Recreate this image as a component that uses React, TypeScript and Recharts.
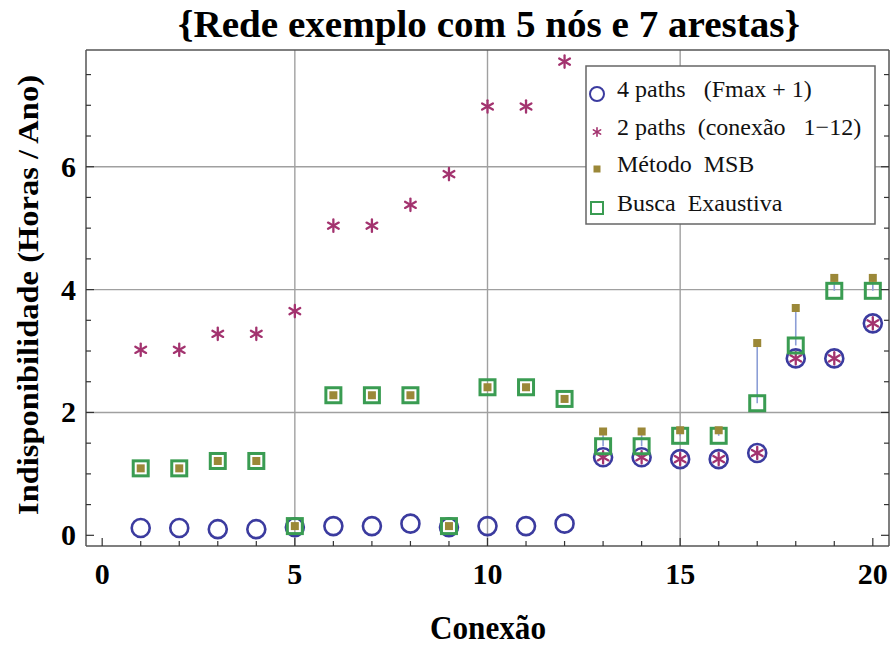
import React from 'react';
import { ScatterChart, Scatter, XAxis, YAxis, CartesianGrid, ReferenceLine } from 'recharts';

const conexoes = [1, 2, 3, 4, 5, 6, 7, 8, 9, 10, 11, 12, 13, 14, 15, 16, 17, 18, 19, 20];
const fourPaths = [0.12, 0.12, 0.10, 0.10, 0.13, 0.15, 0.15, 0.19, 0.13, 0.15, 0.15, 0.19, 1.27, 1.27, 1.24, 1.24, 1.34, 2.88, 2.88, 3.45];
const twoPaths = [3.02, 3.02, 3.28, 3.28, 3.65, 5.04, 5.04, 5.38, 5.88, 6.98, 6.98, 7.71, 1.27, 1.27, 1.24, 1.24, 1.34, 2.88, 2.88, 3.45];
const metodoMSB = [1.09, 1.09, 1.21, 1.21, 0.15, 2.28, 2.28, 2.28, 0.15, 2.41, 2.41, 2.22, 1.69, 1.69, 1.71, 1.71, 3.13, 3.70, 4.19, 4.19];
const buscaExaustiva = [1.09, 1.09, 1.21, 1.21, 0.15, 2.28, 2.28, 2.28, 0.15, 2.41, 2.41, 2.22, 1.45, 1.45, 1.62, 1.62, 2.15, 3.09, 3.98, 3.98];

const xTicks = [0, 1, 2, 3, 4, 5, 6, 7, 8, 9, 10, 11, 12, 13, 14, 15, 16, 17, 18, 19, 20];
const xLabeled = [0, 5, 10, 15, 20];
const yTicks = [0, 0.5, 1, 1.5, 2, 2.5, 3, 3.5, 4, 4.5, 5, 5.5, 6, 6.5, 7, 7.5];
const yLabeled = [0, 2, 4, 6];
const xGrid = [5, 10, 15];
const yGrid = [2, 4, 6];

const title = '{Rede exemplo com 5 nós e 7 arestas}';
const xTitle = 'Conexão';
const yTitle = 'Indisponibilidade (Horas / Ano)';
const legendLabels = ['4 paths   (Fmax + 1)', '2 paths  (conexão   1\u221212)', 'Método  MSB', 'Busca  Exaustiva'];

const BLUE = '#3b3b9f';
const MAGENTA = '#a3336f';
const OLIVE = '#9b8838';
const GREEN = '#3a9c52';
const LINK = '#8c9ed6';
const FRAME = '#555555';
const SERIF = '"Liberation Serif", "Times New Roman", Times, serif';

const toPts = (vals: number[]) => conexoes.map((x, i) => ({ x, y: vals[i] }));

const CircleShape = (p: any) => (
  <circle cx={p.cx} cy={p.cy} r={9} fill="none" stroke={BLUE} strokeWidth={2.6} />
);
const StarMark = ({ cx, cy, s, w }: { cx: number; cy: number; s: number; w: number }) => {
  const lines = [90, 30, -30].map((a) => {
    const r = (a * Math.PI) / 180;
    const dx = Math.cos(r) * s;
    const dy = Math.sin(r) * s;
    return <line key={a} x1={cx - dx} y1={cy - dy} x2={cx + dx} y2={cy + dy} stroke={MAGENTA} strokeWidth={w} strokeLinecap="round" />;
  });
  return <g>{lines}</g>;
};
const StarShape = (p: any) => <StarMark cx={p.cx} cy={p.cy} s={6.2} w={2.3} />;
const MsbShape = (p: any) => <rect x={p.cx - 4} y={p.cy - 4} width={8} height={8} fill={OLIVE} />;
const BuscaShape = (p: any) => (
  <rect x={p.cx - 7.5} y={p.cy - 7.5} width={15} height={15} fill="none" stroke={GREEN} strokeWidth={3} />
);

// plot box
const PL = 86;
const PT = 50;
const PB = 546;
const PR = 889;

const BottomTick = (p: any) => {
  const v = p.payload.value;
  const major = v % 5 === 0;
  return (
    <g>
      <line x1={p.x} x2={p.x} y1={PB} y2={PB - (major ? 8 : 5)} stroke="#333" strokeWidth={1.2} />
      {xLabeled.includes(v) && (
        <text x={p.x} y={PB + 38} textAnchor="middle" fontFamily={SERIF} fontWeight="bold" fontSize={30} fill="#000">
          {v}
        </text>
      )}
    </g>
  );
};
const TopTick = (p: any) => {
  const v = p.payload.value;
  const major = v % 5 === 0;
  return <line x1={p.x} x2={p.x} y1={PT} y2={PT + (major ? 8 : 5)} stroke="#333" strokeWidth={1.2} />;
};
const LeftTick = (p: any) => {
  const v = p.payload.value;
  const major = v % 2 === 0;
  return (
    <g>
      <line x1={PL} x2={PL + (major ? 8 : 5)} y1={p.y} y2={p.y} stroke="#333" strokeWidth={1.2} />
      {yLabeled.includes(v) && (
        <text x={PL - 10} y={p.y + 10} textAnchor="end" fontFamily={SERIF} fontWeight="bold" fontSize={30} fill="#000">
          {v}
        </text>
      )}
    </g>
  );
};
const RightTick = (p: any) => {
  const v = p.payload.value;
  const major = v % 2 === 0;
  return <line x1={PR} x2={PR - (major ? 8 : 5)} y1={p.y} y2={p.y} stroke="#333" strokeWidth={1.2} />;
};

const W = 891;
const H = 646;

export default function App() {
  const legendRows = [94, 132, 169, 208];
  return (
    <div style={{ position: 'absolute', left: 0, top: 0, width: W, height: H, background: '#fff' }}>
      <ScatterChart width={W} height={H} margin={{ top: 49, right: 1, bottom: 99, left: 85 }}>
        <CartesianGrid
          xAxisId="b"
          yAxisId="l"
          stroke="#a0a0a0"
          strokeWidth={1.4}
          verticalValues={xGrid}
          horizontalValues={yGrid}
        />
        <XAxis
          xAxisId="b"
          type="number"
          dataKey="x"
          domain={[-0.42, 20.42]}
          ticks={xTicks}
          interval={0}
          allowDataOverflow
          height={1}
          tickSize={0}
          tickMargin={0}
          tickLine={false}
          axisLine={{ stroke: FRAME, strokeWidth: 1.5 }}
          tick={<BottomTick />}
        />
        <XAxis
          xAxisId="t"
          orientation="top"
          type="number"
          domain={[-0.42, 20.42]}
          ticks={xTicks}
          interval={0}
          allowDataOverflow
          height={1}
          tickSize={0}
          tickMargin={0}
          tickLine={false}
          axisLine={{ stroke: FRAME, strokeWidth: 1.5 }}
          tick={<TopTick />}
        />
        <YAxis
          yAxisId="l"
          type="number"
          dataKey="y"
          domain={[-0.174, 7.9]}
          ticks={yTicks}
          interval={0}
          allowDataOverflow
          width={1}
          tickSize={0}
          tickMargin={0}
          tickLine={false}
          axisLine={{ stroke: FRAME, strokeWidth: 1.5 }}
          tick={<LeftTick />}
        />
        <YAxis
          yAxisId="r"
          orientation="right"
          type="number"
          domain={[-0.174, 7.9]}
          ticks={yTicks}
          interval={0}
          allowDataOverflow
          width={1}
          tickSize={0}
          tickMargin={0}
          tickLine={false}
          axisLine={{ stroke: FRAME, strokeWidth: 1.5 }}
          tick={<RightTick />}
        />
        {conexoes.map((x, i) =>
          metodoMSB[i] !== buscaExaustiva[i] ? (
            <ReferenceLine
              key={'l' + x}
              xAxisId="b"
              yAxisId="l"
              segment={[
                { x, y: metodoMSB[i] },
                { x, y: buscaExaustiva[i] },
              ]}
              stroke={LINK}
              strokeWidth={1.6}
            />
          ) : null
        )}
        <Scatter xAxisId="b" yAxisId="l" data={toPts(fourPaths)} shape={CircleShape} isAnimationActive={false} />
        <Scatter xAxisId="b" yAxisId="l" data={toPts(twoPaths)} shape={StarShape} isAnimationActive={false} />
        <Scatter xAxisId="b" yAxisId="l" data={toPts(buscaExaustiva)} shape={BuscaShape} isAnimationActive={false} />
        <Scatter xAxisId="b" yAxisId="l" data={toPts(metodoMSB)} shape={MsbShape} isAnimationActive={false} />
      </ScatterChart>
      <svg width={W} height={H} style={{ position: 'absolute', left: 0, top: 0, pointerEvents: 'none' }}>
        <text
          x={489}
          y={37}
          textAnchor="middle"
          fontFamily={SERIF}
          fontWeight="bold"
          fontSize={38}
          fill="#000"
          textLength={622}
          lengthAdjust="spacingAndGlyphs"
        >
          {title}
        </text>
        <text
          x={488}
          y={639}
          textAnchor="middle"
          fontFamily={SERIF}
          fontWeight="bold"
          fontSize={33}
          fill="#000"
          textLength={116}
          lengthAdjust="spacingAndGlyphs"
        >
          {xTitle}
        </text>
        <text
          x={0}
          y={0}
          transform="translate(38,295) rotate(-90)"
          textAnchor="middle"
          fontFamily={SERIF}
          fontWeight="bold"
          fontSize={30}
          fill="#000"
          textLength={440}
          lengthAdjust="spacingAndGlyphs"
        >
          {yTitle}
        </text>
        <rect x={586} y={66} width={289} height={158} fill="#fff" stroke="#666" strokeWidth={1.5} />
        <circle cx={597} cy={legendRows[0]} r={7} fill="none" stroke={BLUE} strokeWidth={2} />
        <StarMark cx={597} cy={legendRows[1]} s={4.2} w={1.6} />
        <rect x={593.5} y={legendRows[2] - 3.5} width={7} height={7} fill={OLIVE} />
        <rect x={591} y={legendRows[3] - 6} width={12} height={12} fill="none" stroke={GREEN} strokeWidth={2} />
        {legendLabels.map((t, i) => (
          <text
            key={t}
            x={617}
            y={legendRows[i] + 3}
            fontFamily={SERIF}
            fontSize={24}
            fill="#111"
            style={{ whiteSpace: 'pre' }}
          >
            {t}
          </text>
        ))}
      </svg>
    </div>
  );
}
